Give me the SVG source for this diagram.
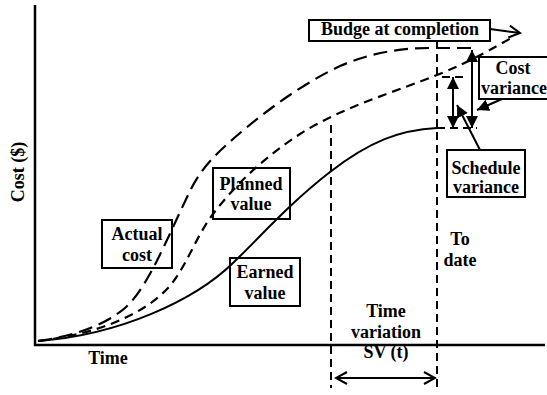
<svg xmlns="http://www.w3.org/2000/svg" width="547" height="395" viewBox="0 0 547 395">
  <style>
    .lbl { font-family: "Liberation Serif", "Times New Roman", serif; font-size: 18px; font-weight: bold; fill: #000; text-anchor: middle; }
    .box { fill: none; stroke: #000; stroke-width: 2; }
    .axis { fill: none; stroke: #000; stroke-width: 2.5; }
    .solid { fill: none; stroke: #000; stroke-width: 2; }
    .long { fill: none; stroke: #000; stroke-width: 2.2; stroke-dasharray: 14 7; }
    .short { fill: none; stroke: #000; stroke-width: 2.2; stroke-dasharray: 9 6; }
    .guide { fill: none; stroke: #000; stroke-width: 2; stroke-dasharray: 8 5; }
    .arrow { fill: none; stroke: #000; stroke-width: 2; }
  </style>
  <defs>
    <marker id="tri" viewBox="0 0 12 12" refX="12" refY="6" markerWidth="12" markerHeight="12" markerUnits="userSpaceOnUse" orient="auto-start-reverse">
      <path d="M0,0 L12,6 L0,12 Z" fill="#000"/>
    </marker>
    <marker id="chev" viewBox="0 0 14 14" refX="12" refY="7" markerWidth="14" markerHeight="14" markerUnits="userSpaceOnUse" orient="auto-start-reverse">
      <path d="M1,1 L12,7 L1,13" fill="none" stroke="#000" stroke-width="2"/>
    </marker>
  </defs>

  <!-- axes -->
  <g id="axes">
    <path class="axis" d="M35,5 V345 H545"/>
    <text class="lbl" transform="translate(24,172) rotate(-90)">Cost ($)</text>
    <text class="lbl" x="108" y="364">Time</text>
  </g>

  <!-- curves, guides and arrows -->
  <g id="connectors">
    <!-- earned value -->
    <path class="solid" d="M38,341 C120,335 195,300 233,263 C263,234 290,203 330,172 C370,141 400,130 437,128"/>
    <!-- actual cost -->
    <path class="long" d="M38,341 C75,336 105,325 125,308 C148,288 168,236 190,191 C202,166 220,150 240,133 C265,112 300,85 340,66 C370,53 400,48 430,48 L475,48"/>
    <!-- planned value -->
    <path class="short" d="M38,341 C90,335 140,318 168,288 C186,268 195,238 213,214 C232,189 260,160 300,134 C340,108 400,90 437,75 C470,62 495,47 513,37"/>

    <!-- vertical guides -->
    <path class="guide" d="M437,41 V390"/>
    <path class="guide" d="M331,125 V388"/>
    <!-- level ticks -->
    <path class="guide" d="M442,77 H466"/>
    <path class="guide" d="M437,128 H477"/>

    <!-- variances -->
    <path class="arrow" d="M472,50 V128" marker-start="url(#tri)" marker-end="url(#tri)"/>
    <path class="arrow" d="M453,77 V128" marker-start="url(#tri)" marker-end="url(#tri)"/>

    <!-- label pointers -->
    <path class="arrow" d="M502,99 L477,110" marker-end="url(#tri)"/>
    <path class="arrow" d="M480,150 L457,105" marker-end="url(#tri)"/>
    <path class="arrow" d="M490,29 L520,33" marker-end="url(#chev)"/>

    <!-- time variation -->
    <path class="guide" d="M337,378 H434"/>
    <path class="arrow" d="M336,378 H435" stroke="none" marker-start="url(#chev)" marker-end="url(#chev)"/>
  </g>

  <g id="budget">
    <rect class="box" x="309" y="20" width="181" height="21"/>
    <text class="lbl" x="400" y="35">Budge at completion</text>
  </g>
  <g id="cost-variance">
    <rect class="box" x="479" y="57" width="70" height="42"/>
    <text class="lbl" x="513" y="74">Cost</text>
    <text class="lbl" x="514" y="94">variance</text>
  </g>
  <g id="schedule-variance">
    <rect class="box" x="447" y="150" width="78" height="47"/>
    <text class="lbl" x="486" y="174">Schedule</text>
    <text class="lbl" x="486" y="193">variance</text>
  </g>
  <g id="actual-cost">
    <rect class="box" x="102" y="220" width="70" height="48"/>
    <text class="lbl" x="137" y="240">Actual</text>
    <text class="lbl" x="137" y="261">cost</text>
  </g>
  <g id="planned-value">
    <rect class="box" x="213" y="168" width="77" height="51"/>
    <text class="lbl" x="251" y="190">Planned</text>
    <text class="lbl" x="251" y="210">value</text>
  </g>
  <g id="earned-value">
    <rect class="box" x="230" y="258" width="70" height="48"/>
    <text class="lbl" x="265" y="278">Earned</text>
    <text class="lbl" x="265" y="299">value</text>
  </g>
  <g id="to-date">
    <text class="lbl" x="460" y="245">To</text>
    <text class="lbl" x="460" y="266">date</text>
  </g>
  <g id="time-variation">
    <text class="lbl" x="386" y="317">Time</text>
    <text class="lbl" x="386" y="338">variation</text>
    <text class="lbl" x="386" y="358">SV (t)</text>
  </g>
</svg>
